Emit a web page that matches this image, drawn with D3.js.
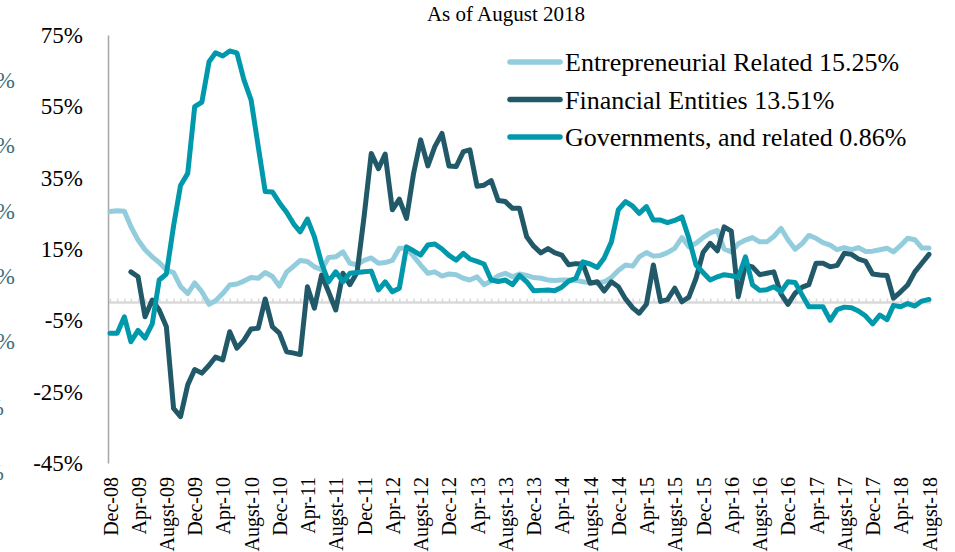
<!DOCTYPE html>
<html><head><meta charset="utf-8">
<script src="https://cdn.jsdelivr.net/npm/d3@7"></script>
<style>
html,body{margin:0;padding:0;background:#fff;}
svg{display:block;}
text{font-family:"Liberation Serif","Times New Roman",serif;}
</style></head>
<body>
<svg id="chart" width="955" height="552"></svg>
<script>
const title = "As of August 2018";
const seriesNames = ["Entrepreneurial Related 15.25%","Financial Entities 13.51%","Governments, and related 0.86%"];
const seriesColors = ["#93CDDD","#215968","#0099AC"];
const yTicks = [-45,-25,-5,15,35,55,75];
const xTickLabels = ["Dec-08","Apr-09","Augst-09","Dec-09","Apr-10","Augst-10","Dec-10","Apr-11","Augst-11","Dec-11","Apr-12","Augst-12","Dec-12","Apr-13","Augst-13","Dec-13","Apr-14","Augst-14","Dec-14","Apr-15","Augst-15","Dec-15","Apr-16","Augst-16","Dec-16","Apr-17","Augst-17","Dec-17","Apr-18","Augst-18"];
const leftCutLabels = ["60%","50%","40%","30%","20%","0%","0%"];

// monthly values Dec-08 .. Aug-18
const entrepreneurial = [25.5,25.7,25.6,21.3,17.5,14.8,12.8,11.2,9.1,8.4,4.5,2.5,5.5,3.0,-0.5,0.5,2.5,4.9,5.2,6.0,7.0,6.8,8.4,7.3,4.6,8.5,10.2,11.8,11.5,10.0,9.2,12.6,12.8,14.2,11.0,10.6,11.8,12.5,11.0,11.2,11.8,15.2,15.2,13.0,10.5,8.2,8.6,7.4,8.0,7.8,6.8,6.3,7.2,5.0,6.0,7.5,8.2,7.2,8.0,7.6,7.0,6.8,6.3,6.2,6.3,6.3,6.2,5.8,5.6,5.5,5.8,7.0,9.0,10.5,10.2,12.8,14.0,13.0,13.2,14.0,15.2,18.2,15.6,16.6,18.2,19.5,20.2,15.0,14.2,16.5,17.5,18.2,17.0,17.0,18.5,20.8,17.6,14.9,16.6,18.8,18.0,16.8,16.1,14.8,15.4,14.8,15.4,14.3,14.4,14.8,15.2,14.2,16.0,18.0,17.6,15.3,15.25];
const financial = [null,null,null,8.6,7.2,-4.0,0.7,-2.1,-6.8,-29.7,-32.0,-23.1,-18.8,-19.8,-17.6,-15.3,-16.1,-8.2,-12.8,-10.6,-7.4,-7.2,1.0,-6.8,-8.6,-13.8,-14.2,-14.6,4.4,-1.6,7.7,3.0,-2.1,8.2,5.0,8.5,24.0,41.8,37.5,41.6,26.0,29.0,23.6,36.0,45.6,38.3,43.7,47.4,38.3,38.1,42.3,42.8,32.6,32.9,34.2,28.6,28.3,26.4,26.4,18.4,15.8,13.9,15.1,14.0,13.3,10.6,10.9,10.8,5.4,5.8,3.2,5.8,4.4,1.0,-1.5,-3.0,-0.5,10.5,0.3,0.8,4.0,0.2,1.5,6.8,14.0,16.6,14.5,21.2,20.0,1.6,10.5,10.0,7.8,8.2,8.6,2.4,-0.5,2.6,4.3,5.0,11.0,11.0,10.0,10.4,13.8,13.5,12.2,11.5,8.0,7.7,7.6,1.2,3.0,4.9,8.6,11.0,13.51];
const governments = [-8.6,-8.6,-4.0,-11.0,-7.8,-10.0,-6.0,6.3,8.0,21.5,32.8,36.2,54.9,56.2,67.5,70.0,69.1,70.5,70.0,62.5,56.8,43.7,31.1,31.0,28.0,25.3,22.0,19.8,23.4,18.4,11.0,5.8,8.6,5.8,8.2,8.4,8.6,8.8,3.5,5.8,3.0,4.0,15.6,14.5,13.3,16.1,16.4,15.0,13.2,11.9,13.8,12.2,11.5,10.8,6.3,5.9,6.3,5.0,7.6,5.8,3.3,3.4,3.5,3.3,4.3,6.0,6.8,11.4,10.8,9.8,12.5,17.0,26.0,28.3,27.0,25.0,26.9,23.1,23.1,22.4,23.0,24.0,18.0,10.5,8.4,6.3,7.2,7.8,7.5,7.0,12.8,5.0,3.4,3.6,4.4,3.0,5.8,5.6,2.0,-1.2,-1.2,-1.2,-5.0,-2.0,-1.3,-1.5,-2.4,-3.8,-6.0,-3.5,-4.8,-0.8,-1.2,-0.3,-1.0,0.4,0.86];

const months = d3.utcMonth.range(new Date(Date.UTC(2008,11,1)), new Date(Date.UTC(2018,8,1)));
const seriesData = [entrepreneurial, financial, governments];

const svg = d3.select("#chart");
const x = d3.scaleUtc().domain([months[0], months[months.length-1]]).range([110, 929]);
const y = d3.scaleLinear().domain([-45, 75]).range([463, 35]);

// left cut-off labels (partially outside, as in the reference)
svg.append("g").selectAll("text").data(leftCutLabels).join("text")
  .attr("x", (d,i) => i < 5 ? 15 : 4)
  .attr("y", (d,i) => 80 + i*65.3)
  .attr("dy","0.35em")
  .attr("text-anchor","end")
  .attr("fill","#3E6F7C")
  .style("font-size","23px")
  .text(d => d);

// title
svg.append("text").attr("x", 506).attr("y", 21).attr("text-anchor","middle")
  .style("font-size","21px").attr("fill","#000").text(title);

// zero line with monthly ticks
const zeroAxis = d3.axisBottom(x).tickValues(months).tickSize(-4).tickSizeOuter(0).tickFormat("");
const zg = svg.append("g").attr("transform", `translate(0,${y(0)})`).call(zeroAxis);
zg.select(".domain").attr("stroke","#D9D9D9").attr("stroke-width",2.5).attr("d", `M108,0H931`);
zg.selectAll(".tick line").attr("stroke","#D9D9D9").attr("stroke-width",1.5);

// y axis
const yAxis = d3.axisLeft(y).tickValues(yTicks).tickSize(0).tickSizeOuter(0).tickPadding(25).tickFormat(d => d + "%");
const yg = svg.append("g").attr("transform","translate(108,0)").attr("font-family",'"Liberation Serif",serif').call(yAxis);
yg.select(".domain").attr("stroke","#A6A6A6").attr("stroke-width",1.5);
yg.selectAll("text").style("font-size","23px").attr("fill","#000");

// x axis labels
const labelMonths = months.filter((d,i) => i % 4 === 0);
const xAxis = d3.axisBottom(x).tickValues(labelMonths).tickSize(0)
  .tickFormat((d,i) => xTickLabels[i]);
const xg = svg.append("g").attr("transform","translate(0,477)").attr("font-family",'"Liberation Serif",serif').call(xAxis);
xg.select(".domain").remove();
xg.selectAll("text")
  .attr("transform","rotate(-90)")
  .attr("x",0).attr("y",0).attr("dy","0.35em")
  .attr("text-anchor","end")
  .style("font-size","20px").attr("fill","#000");

// lines
const line = d3.line().defined(d => d[1] !== null).x(d => x(d[0])).y(d => y(d[1]));
seriesData.forEach((arr, k) => {
  svg.append("path")
    .datum(arr.map((v,i) => [months[i], v]))
    .attr("fill","none")
    .attr("stroke", seriesColors[k])
    .attr("stroke-width", 5)
    .attr("stroke-linejoin","round")
    .attr("stroke-linecap","round")
    .attr("d", line);
});

// legend
const lg = svg.append("g");
seriesNames.forEach((name, k) => {
  const cy = 62 + k*37.5;
  lg.append("line").attr("x1",510).attr("x2",560).attr("y1",cy).attr("y2",cy)
    .attr("stroke", seriesColors[k]).attr("stroke-width",5.5).attr("stroke-linecap","round");
  lg.append("text").attr("x",565).attr("y",cy).attr("dy","0.35em")
    .style("font-size","26px").attr("fill","#000").text(name);
});
</script>
</body></html>
